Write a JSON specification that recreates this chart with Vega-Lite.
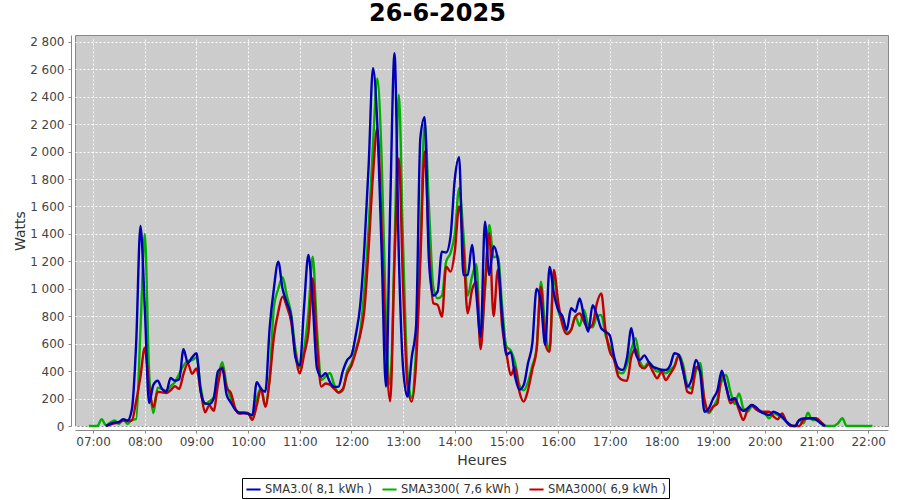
{
"$schema": "https://vega.github.io/schema/vega-lite/v6.json",
"width": 900, "height": 391,
"autosize": {"type": "fit-x", "contains": "padding"},
"padding": {"left": 13, "top": 2, "right": 12, "bottom": 33},
"background": "white",
"title": {"text": "26-6-2025", "fontSize": 24, "font": "DejaVu Sans", "fontWeight": "bold", "color": "black", "anchor": "middle", "offset": 9, "dx": -44},
"data": {"values": [
{"t":"06:55","s2":0},{"t":"07:00","s2":0},{"t":"07:05","s2":0},{"t":"07:10","s2":50},
{"t":"07:15","s1":0,"s2":5,"s3":0},{"t":"07:20","s1":10,"s2":25,"s3":15},{"t":"07:25","s1":20,"s2":40,"s3":25},{"t":"07:30","s1":25,"s2":15,"s3":30},
{"t":"07:35","s1":40,"s2":50,"s3":50},{"t":"07:40","s1":35,"s2":15,"s3":40},{"t":"07:45","s1":40,"s2":45,"s3":120},{"t":"07:50","s1":180,"s2":50,"s3":600},
{"t":"07:55","s1":360,"s2":700,"s3":1458},{"t":"08:00","s1":570,"s2":1400,"s3":870},{"t":"08:05","s1":300,"s2":400,"s3":168},{"t":"08:10","s1":140,"s2":95,"s3":300},
{"t":"08:15","s1":250,"s2":280,"s3":330},{"t":"08:20","s1":245,"s2":270,"s3":270},{"t":"08:25","s1":240,"s2":255,"s3":250},{"t":"08:30","s1":260,"s2":290,"s3":350},
{"t":"08:35","s1":290,"s2":320,"s3":330},{"t":"08:40","s1":270,"s2":380,"s3":340},{"t":"08:45","s1":380,"s2":440,"s3":560},{"t":"08:50","s1":455,"s2":475,"s3":460},
{"t":"08:55","s1":380,"s2":480,"s3":500},{"t":"09:00","s1":420,"s2":500,"s3":530},{"t":"09:05","s1":250,"s2":280,"s3":250},{"t":"09:10","s1":100,"s2":160,"s3":165},
{"t":"09:15","s1":150,"s2":180,"s3":160},{"t":"09:20","s1":110,"s2":210,"s3":200},{"t":"09:25","s1":300,"s2":350,"s3":400},{"t":"09:30","s1":430,"s2":465,"s3":420},
{"t":"09:35","s1":280,"s2":300,"s3":230},{"t":"09:40","s1":240,"s2":200,"s3":170},{"t":"09:45","s1":130,"s2":120,"s3":120},{"t":"09:50","s1":90,"s2":100,"s3":95},
{"t":"09:55","s1":95,"s2":100,"s3":95},{"t":"10:00","s1":90,"s2":95,"s3":90},{"t":"10:05","s1":45,"s2":45,"s3":80},{"t":"10:10","s1":150,"s2":200,"s3":320},
{"t":"10:15","s1":270,"s2":280,"s3":270},{"t":"10:20","s1":140,"s2":150,"s3":250},{"t":"10:25","s1":335,"s2":350,"s3":714},{"t":"10:30","s1":651,"s2":870,"s3":1006},
{"t":"10:35","s1":830,"s2":1000,"s3":1198},{"t":"10:40","s1":943,"s2":1084,"s3":1000},{"t":"10:45","s1":870,"s2":950,"s3":900},{"t":"10:50","s1":760,"s2":816,"s3":797},
{"t":"10:55","s1":520,"s2":560,"s3":500},{"t":"11:00","s1":384,"s2":423,"s3":440},{"t":"11:05","s1":520,"s2":560,"s3":870},{"t":"11:10","s1":680,"s2":823,"s3":1247},
{"t":"11:15","s1":1076,"s2":1234,"s3":900},{"t":"11:20","s1":600,"s2":700,"s3":420},{"t":"11:25","s1":287,"s2":335,"s3":360},{"t":"11:30","s1":310,"s2":360,"s3":384},
{"t":"11:35","s1":300,"s2":386,"s3":320},{"t":"11:40","s1":270,"s2":300,"s3":285},{"t":"11:45","s1":245,"s2":240,"s3":287},{"t":"11:50","s1":270,"s2":260,"s3":400},
{"t":"11:55","s1":380,"s2":400,"s3":480},{"t":"12:00","s1":440,"s2":460,"s3":515},{"t":"12:05","s1":540,"s2":560,"s3":663},{"t":"12:10","s1":660,"s2":680,"s3":870},
{"t":"12:15","s1":846,"s2":1000,"s3":1300},{"t":"12:20","s1":1300,"s2":1450,"s3":1903},{"t":"12:25","s1":1830,"s2":2050,"s3":2608},{"t":"12:30","s1":2170,"s2":2534,"s3":2200},
{"t":"12:35","s1":1453,"s2":1963,"s3":1283},{"t":"12:40","s1":600,"s2":800,"s3":287},{"t":"12:45","s1":180,"s2":300,"s3":1600},{"t":"12:50","s1":1200,"s2":1300,"s3":2717},
{"t":"12:55","s1":1950,"s2":2414,"s3":1247},{"t":"13:00","s1":1000,"s2":1300,"s3":420},{"t":"13:05","s1":300,"s2":400,"s3":214},{"t":"13:10","s1":178,"s2":202,"s3":500},
{"t":"13:15","s1":450,"s2":554,"s3":724},{"t":"13:20","s1":1200,"s2":1300,"s3":2100},{"t":"13:25","s1":2000,"s2":2209,"s3":2250},{"t":"13:30","s1":1300,"s2":1599,"s3":1200},
{"t":"13:35","s1":895,"s2":1016,"s3":950},{"t":"13:40","s1":883,"s2":931,"s3":979},{"t":"13:45","s1":797,"s2":950,"s3":1271},{"t":"13:50","s1":1162,"s2":1200,"s3":1265},
{"t":"13:55","s1":1125,"s2":1260,"s3":1380},{"t":"14:00","s1":1271,"s2":1400,"s3":1800},{"t":"14:05","s1":1600,"s2":1733,"s3":1960},{"t":"14:10","s1":1300,"s2":1400,"s3":1100},
{"t":"14:15","s1":821,"s2":950,"s3":1100},{"t":"14:20","s1":992,"s2":1089,"s3":1320},{"t":"14:25","s1":1050,"s2":1180,"s3":967},{"t":"14:30","s1":560,"s2":640,"s3":651},
{"t":"14:35","s1":1016,"s2":1000,"s3":1490},{"t":"14:40","s1":1405,"s2":1466,"s3":1100},{"t":"14:45","s1":800,"s2":1230,"s3":1310},{"t":"14:50","s1":1140,"s2":1240,"s3":1210},
{"t":"14:55","s1":724,"s2":870,"s3":800},{"t":"15:00","s1":530,"s2":578,"s3":518},{"t":"15:05","s1":372,"s2":550,"s3":540},{"t":"15:10","s1":430,"s2":460,"s3":360},
{"t":"15:15","s1":250,"s2":300,"s3":265},{"t":"15:20","s1":178,"s2":260,"s3":299},{"t":"15:25","s1":262,"s2":320,"s3":457},{"t":"15:30","s1":410,"s2":440,"s3":600},
{"t":"15:35","s1":560,"s2":560,"s3":1000},{"t":"15:40","s1":1016,"s2":1052,"s3":900},{"t":"15:45","s1":600,"s2":700,"s3":591},{"t":"15:50","s1":540,"s2":560,"s3":1160},
{"t":"15:55","s1":1137,"s2":1089,"s3":967},{"t":"16:00","s1":907,"s2":846,"s3":846},{"t":"16:05","s1":736,"s2":761,"s3":800},{"t":"16:10","s1":670,"s2":680,"s3":700},
{"t":"16:15","s1":700,"s2":700,"s3":858},{"t":"16:20","s1":797,"s2":800,"s3":833},{"t":"16:25","s1":820,"s2":730,"s3":930},{"t":"16:30","s1":760,"s2":846,"s3":797},
{"t":"16:35","s1":712,"s2":736,"s3":688},{"t":"16:40","s1":740,"s2":720,"s3":880},{"t":"16:45","s1":895,"s2":797,"s3":809},{"t":"16:50","s1":967,"s2":809,"s3":712},
{"t":"16:55","s1":700,"s2":663,"s3":688},{"t":"17:00","s1":542,"s2":578,"s3":660},{"t":"17:05","s1":481,"s2":490,"s3":505},{"t":"17:10","s1":360,"s2":390,"s3":421},
{"t":"17:15","s1":335,"s2":384,"s3":408},{"t":"17:20","s1":330,"s2":450,"s3":500},{"t":"17:25","s1":505,"s2":560,"s3":712},{"t":"17:30","s1":560,"s2":640,"s3":530},
{"t":"17:35","s1":440,"s2":470,"s3":480},{"t":"17:40","s1":420,"s2":430,"s3":515},{"t":"17:45","s1":450,"s2":465,"s3":469},{"t":"17:50","s1":396,"s2":432,"s3":432},
{"t":"17:55","s1":347,"s2":396,"s3":420},{"t":"18:00","s1":396,"s2":408,"s3":410},{"t":"18:05","s1":335,"s2":384,"s3":408},{"t":"18:10","s1":380,"s2":410,"s3":440},
{"t":"18:15","s1":430,"s2":440,"s3":530},{"t":"18:20","s1":510,"s2":520,"s3":520},{"t":"18:25","s1":420,"s2":450,"s3":400},{"t":"18:30","s1":250,"s2":300,"s3":287},
{"t":"18:35","s1":238,"s2":275,"s3":340},{"t":"18:40","s1":430,"s2":400,"s3":481},{"t":"18:45","s1":400,"s2":460,"s3":384},{"t":"18:50","s1":190,"s2":165,"s3":104},
{"t":"18:55","s1":104,"s2":95,"s3":129},{"t":"19:00","s1":141,"s2":140,"s3":200},{"t":"19:05","s1":165,"s2":200,"s3":260},{"t":"19:10","s1":384,"s2":330,"s3":403},
{"t":"19:15","s1":287,"s2":372,"s3":287},{"t":"19:20","s1":165,"s2":250,"s3":190},{"t":"19:25","s1":190,"s2":160,"s3":202},{"t":"19:30","s1":117,"s2":238,"s3":141},
{"t":"19:35","s1":44,"s2":129,"s3":110},{"t":"19:40","s1":120,"s2":104,"s3":129},{"t":"19:45","s1":153,"s2":141,"s3":153},{"t":"19:50","s1":120,"s2":125,"s3":135},
{"t":"19:55","s1":104,"s2":110,"s3":104},{"t":"20:00","s1":104,"s2":90,"s3":90},{"t":"20:05","s1":104,"s2":56,"s3":80},{"t":"20:10","s1":70,"s2":92,"s3":104},
{"t":"20:15","s1":49,"s2":80,"s3":90},{"t":"20:20","s1":92,"s2":60,"s3":68},{"t":"20:25","s1":32,"s2":32,"s3":32},{"t":"20:30","s1":0,"s2":7,"s3":7},
{"t":"20:35","s1":0,"s2":0,"s3":0},{"t":"20:40","s1":0,"s2":44,"s3":44},{"t":"20:45","s1":44,"s2":20,"s3":55},{"t":"20:50","s1":56,"s2":97,"s3":56},
{"t":"20:55","s1":56,"s2":44,"s3":56},{"t":"21:00","s1":56,"s2":44,"s3":44},{"t":"21:05","s1":30,"s2":20,"s3":20},{"t":"21:10","s1":0,"s2":0,"s3":0},
{"t":"21:15","s2":0},{"t":"21:20","s2":0},{"t":"21:25","s2":20},{"t":"21:30","s2":56},{"t":"21:35","s2":0},{"t":"21:40","s2":0},
{"t":"21:45","s2":0},{"t":"21:50","s2":0},{"t":"21:55","s2":0},{"t":"22:00","s2":0},{"t":"22:05","s2":0}
], "format": {"parse": {"t": "date:'%H:%M'"}}},
"transform": [
  {"fold": ["s1", "s2", "s3"], "as": ["k", "v"]},
  {"filter": "isValid(datum.v)"}
],
"mark": {"type": "line", "interpolate": "monotone", "strokeWidth": 2.4},
"encoding": {
  "x": {"field": "t", "type": "temporal", "title": "Heures",
        "scale": {"domain": [{"year": 1900, "month": 1, "date": 1, "hours": 6, "minutes": 39}, {"year": 1900, "month": 1, "date": 1, "hours": 22, "minutes": 23}]},
        "axis": {"format": "%H:%M", "tickCount": 16, "labelFlush": false}},
  "y": {"field": "v", "type": "quantitative", "title": "Watts",
        "scale": {"domain": [0, 2850], "nice": false},
        "axis": {"values": [0,200,400,600,800,1000,1200,1400,1600,1800,2000,2200,2400,2600,2800], "labelExpr": "replace(format(datum.value, ','), ',', ' ')"}},
  "color": {"field": "k", "type": "nominal",
        "scale": {"domain": ["s3", "s2", "s1"], "range": ["#0000b4", "#00b000", "#c00000"]},
        "legend": {"orient": "none", "legendX": 167, "legendY": 443, "direction": "horizontal", "title": null,
                   "strokeColor": "black", "fillColor": "white", "padding": 3, "columnPadding": 6, "labelOffset": 3,
                   "labelFont": "DejaVu Sans", "labelFontSize": 11.5, "labelColor": "#333333",
                   "symbolType": "stroke", "symbolStrokeWidth": 2, "symbolSize": 200,
                   "labelExpr": "datum.label == 's3' ? 'SMA3.0( 8,1 kWh )' : datum.label == 's2' ? 'SMA3300( 7,6 kWh )' : 'SMA3000( 6,9 kWh )'"}}
},
"config": {
  "view": {"fill": "#cccccc", "stroke": "#888888", "strokeWidth": 1},
  "axis": {"gridColor": "white", "gridDash": [2, 2], "gridOpacity": 1, "gridWidth": 1,
           "domainColor": "#888888", "tickColor": "#888888", "tickSize": 3, "offset": 4,
           "labelFont": "DejaVu Sans", "labelFontSize": 12, "labelColor": "#444444",
           "titleFont": "DejaVu Sans", "titleFontSize": 14, "titleFontWeight": "normal", "titleColor": "#333333"},
  "axisX": {"labelPadding": 3, "titlePadding": 6},
  "axisY": {"labelPadding": 4, "titlePadding": 2}
}
}
